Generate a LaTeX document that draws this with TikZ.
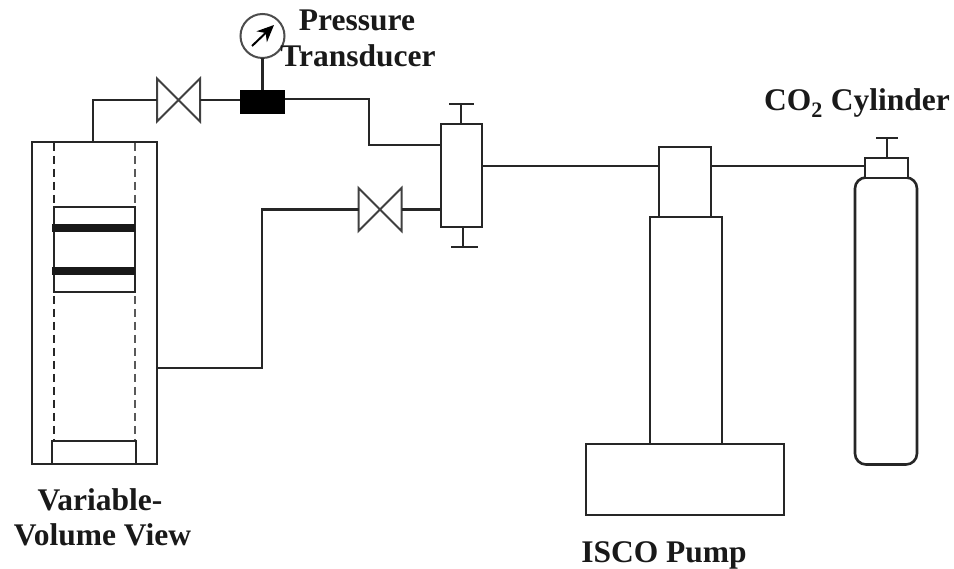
\documentclass[tikz,border=0pt]{standalone}
\usepackage{fontspec}
\setmainfont{Liberation Serif}
\usetikzlibrary{arrows.meta}
\tikzset{
  ink/.style={draw=black!85,line width=2.6pt},
  part/.style={ink,rectangle,inner sep=0pt,outer sep=0pt},
  joint/.style={inner sep=0pt,outer sep=0pt,minimum width=43pt,minimum height=43pt},
  pipe/.style={ink,line join=miter},
  thin part/.style={draw=black!75,line width=2pt},
  dashleft/.style={black!85,line width=2.8pt,dash pattern=on 8pt off 5pt},
  dashright/.style={black!65,line width=2.8pt,dash pattern=on 8pt off 5pt},
  label/.style={font=\fontsize{31.5}{36}\selectfont\bfseries,inner sep=0pt,text=black!90,anchor=base}
}
\begin{document}
\begin{tikzpicture}[x=1pt,y=-1pt]
\useasboundingbox (0,0) rectangle (954,569);
\fill[white] (0,0) rectangle (954,569);
% vessel
\node[part,minimum width=125pt,minimum height=322pt] (vessel) at (94.5,303) {};
\node[part,minimum width=84pt,minimum height=23pt] (plug) at (94,452.5) {};
\node[part,minimum width=81pt,minimum height=85pt] (piston) at (94.5,249.5) {};
\draw[black!90,line width=7.5pt] (52,228) -- (135,228);
\draw[black!90,line width=7.5pt] (52,271) -- (135,271);
\draw[dashleft] (54,143) -- (54,207);
\draw[dashright] (135,143) -- (135,207);
\draw[dashleft] (54,296) -- (54,440);
\draw[dashright] (135,296) -- (135,440);
% valves
\node[joint] (valveA) at (178.5,100) {};
\node[joint] (valveB) at (380,209.5) {};
\foreach \v in {valveA,valveB}
  \draw[thin part,line join=miter] (\v.north west) -- (\v.south east) -- (\v.north east) -- (\v.south west) -- cycle;
% transducer
\node[fill=black,inner sep=0pt,outer sep=0pt,minimum width=45pt,minimum height=24pt] (block) at (262,102) {};
\node[circle,draw=black!70,line width=2pt,inner sep=0pt,outer sep=0pt,minimum size=44pt] (gauge) at (262.5,36) {};
\draw[black,line width=2pt,-{Stealth[length=17pt,width=15pt]}] (252,46) -- (274,25);
% separator
\node[part,minimum width=41pt,minimum height=103pt] (sep) at (461.5,175.5) {};
\coordinate (sepTop) at (461,104);
\coordinate (sepBot) at (463,247);
\draw[pipe] (sep.north -| sepTop) -- (sepTop);
\draw[pipe] (449,104) -- (474,104);
\draw[pipe] (sep.south -| sepBot) -- (sepBot);
\draw[pipe] (451,247) -- (478,247);
% pump
\node[part,minimum width=52pt,minimum height=70pt] (head) at (685,182) {};
\node[part,minimum width=72pt,minimum height=227pt] (column) at (686,330.5) {};
\node[part,minimum width=198pt,minimum height=71pt] (base) at (685,479.5) {};
% cylinder
\node[part,rounded corners=11pt,minimum width=62pt,minimum height=287pt] (bottle) at (886,321) {};
\node[part,fill=white,minimum width=43pt,minimum height=20pt] (cap) at (886.5,168) {};
\coordinate (capTop) at (887,138);
\draw[pipe] (cap.north -| capTop) -- (capTop);
\draw[pipe] (876,138) -- (898,138);
% connectors
\coordinate (tapA) at (93,141);
\coordinate (tapB) at (157,368);
\coordinate (bend) at (262,209.5);
\coordinate (sepA) at (441,145);
\coordinate (sepB) at (441,209.5);
\coordinate (sepC) at (482,166);
\coordinate (headL) at (659,166);
\coordinate (headR) at (711,166);
\coordinate (capL) at (865,166);
\coordinate (kink) at (369,99);
\draw[pipe] (tapA) |- (valveA.west);
\draw[pipe] (valveA.east) -- (block.west |- valveA);
\draw[pipe] (block.east |- kink) -- (kink) |- (sepA);
\draw[pipe] (gauge.south) -- (block.north -| gauge);
\draw[pipe] (tapB) -| (bend) -- (valveB.west);
\draw[pipe] (valveB.east) -- (sepB);
\draw[pipe] (sepC) -- (headL);
\draw[pipe] (headR) -- (capL);
% labels
\node[label] (lp) at (357,31) {Pressure};
\node[label] (lt) at (358,67) {Transducer};
\node[label] (lc) at (857,111) {CO\textsubscript{2} Cylinder};
\node[label] (lv) at (100,510) {Variable-};
\node[label] (lw) at (102.5,545) {Volume View};
\node[label] (li) at (664,562) {ISCO Pump};
\end{tikzpicture}
\end{document}
